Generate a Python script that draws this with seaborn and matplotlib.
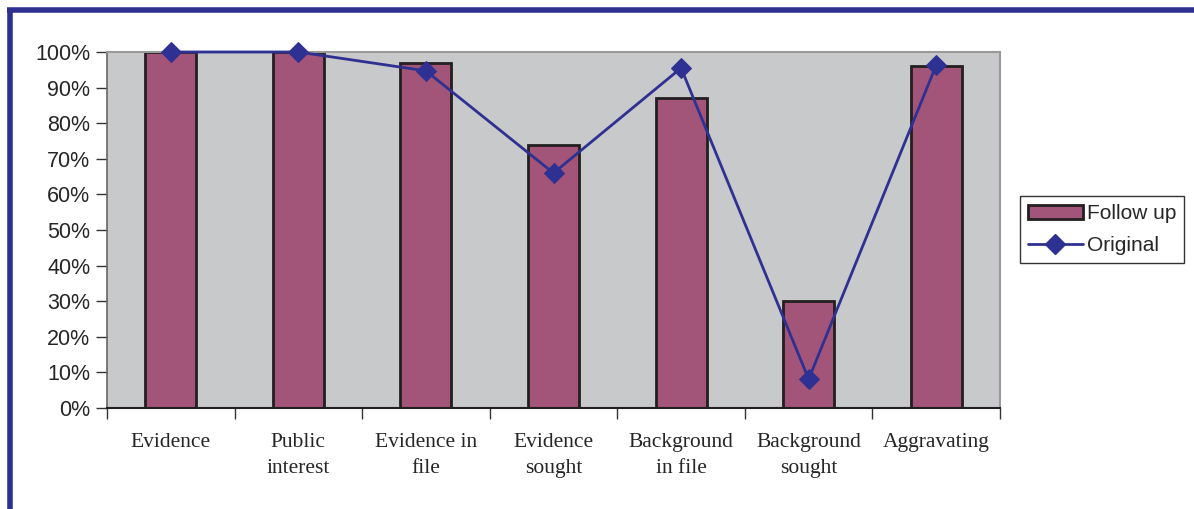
import numpy as np
import pandas as pd
import matplotlib
matplotlib.use("Agg")
import matplotlib.pyplot as plt
import seaborn as sns
from matplotlib.lines import Line2D
from matplotlib.patches import Patch
from matplotlib.ticker import FuncFormatter

# Data
categories = ["Evidence", "Public\ninterest", "Evidence in\nfile", "Evidence\nsought",
              "Background\nin file", "Background\nsought", "Aggravating"]
follow_up = [1.00, 1.00, 0.97, 0.74, 0.87, 0.30, 0.96]
original = [1.00, 1.00, 0.947, 0.66, 0.955, 0.081, 0.963]

bar_color = "#A35579"
line_color = "#2E3192"
bg_gray = "#C8C9CB"

sns.set_style("white")
plt.rcParams["font.family"] = ["Liberation Sans", "DejaVu Sans"]

fig = plt.figure(figsize=(11.94, 5.09), dpi=100)
ax = fig.add_axes([107 / 1194, 1 - 408 / 509, (1000 - 107) / 1194, (408 - 52) / 509])
ax.set_facecolor(bg_gray)

df = pd.DataFrame({"cat": categories, "follow": follow_up, "orig": original})

sns.barplot(data=df, x="cat", y="follow", color=bar_color, width=0.4,
            edgecolor="#231F20", linewidth=2, saturation=1, ax=ax, zorder=2)
sns.lineplot(x=np.arange(len(categories)), y=df["orig"], color=line_color,
             linewidth=2, marker="D", markersize=10, markeredgecolor=line_color,
             ax=ax, zorder=3, clip_on=False)

ax.set_xlim(-0.5, len(categories) - 0.5)
ax.set_ylim(0, 1)
ax.set_xlabel("")
ax.set_ylabel("")

# y axis
ax.set_yticks(np.arange(0, 1.01, 0.1))
ax.yaxis.set_major_formatter(FuncFormatter(lambda v, p: f"{v * 100:.0f}%"))
ax.tick_params(axis="y", direction="out", length=8, width=1, color="#333333",
               labelsize=15.5, pad=4, left=True)

# x axis: ticks on category boundaries, labels in the middle
ax.set_xticks(np.arange(-0.5, len(categories), 1.0))
ax.set_xticklabels([])
ax.set_xticks(np.arange(len(categories)), minor=True)
ax.set_xticklabels(categories, minor=True, family=["Liberation Serif", "DejaVu Serif"],
                   fontsize=15.5, linespacing=1.5)
ax.tick_params(axis="x", which="major", direction="out", length=8, width=1,
               color="#333333", bottom=True)
ax.tick_params(axis="x", which="minor", length=0, pad=18)

for s in ["top", "right"]:
    ax.spines[s].set_color("#9A9A9A")
    ax.spines[s].set_linewidth(1.5)
ax.spines["left"].set_color("#666666")
ax.spines["left"].set_linewidth(1.2)
ax.spines["bottom"].set_color("#231F20")
ax.spines["bottom"].set_linewidth(1.5)

# legend
handles = [Patch(facecolor=bar_color, edgecolor="#231F20", linewidth=2, label="Follow up"),
           Line2D([], [], color=line_color, linewidth=2, marker="D", markersize=10,
                  label="Original")]
fig.legend(handles=handles, loc="upper left",
           bbox_to_anchor=(1020 / 1194, 1 - 196 / 509), fontsize=15,
           frameon=True, fancybox=False, edgecolor="#333333", framealpha=1,
           handlelength=2.6, borderpad=0.4, labelspacing=0.6, handletextpad=0.2,
           borderaxespad=0)

# blue frame
fig.add_artist(Line2D([7 / 1194, 1], [1 - 9.5 / 509, 1 - 9.5 / 509], color="#2E3192",
                      linewidth=4, solid_capstyle="butt", transform=fig.transFigure))
fig.add_artist(Line2D([9.5 / 1194, 9.5 / 1194], [0, 1 - 7.5 / 509], color="#2E3192",
                      linewidth=4, solid_capstyle="butt", transform=fig.transFigure))

fig.savefig("out.png", dpi=100)
